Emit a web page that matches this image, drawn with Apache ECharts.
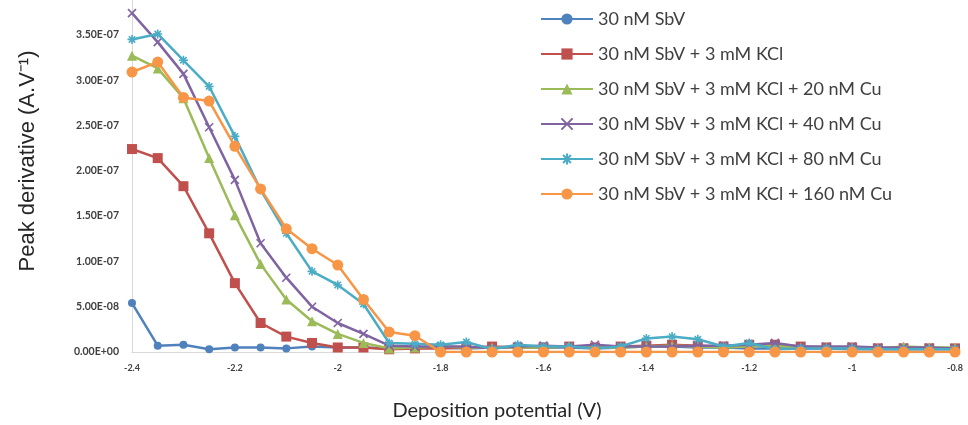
<!DOCTYPE html>
<html><head><meta charset="utf-8">
<script src="https://cdn.jsdelivr.net/npm/echarts@6/dist/echarts.min.js"></script>
<style>html,body{margin:0;padding:0;background:#fff}#c{width:968px;height:425px}</style>
</head><body><div id="c"></div>
<script>
const potentials = [-2.4,-2.35,-2.3,-2.25,-2.2,-2.15,-2.1,-2.05,-2.0,-1.95,-1.9,-1.85,-1.8,-1.75,-1.7,-1.65,-1.6,-1.55,-1.5,-1.45,-1.4,-1.35,-1.3,-1.25,-1.2,-1.15,-1.1,-1.05,-1.0,-0.95,-0.9,-0.85,-0.8];
const seriesNames = ["30 nM SbV","30 nM SbV + 3 mM KCl","30 nM SbV + 3 mM KCl + 20 nM Cu","30 nM SbV + 3 mM KCl + 40 nM Cu","30 nM SbV + 3 mM KCl + 80 nM Cu","30 nM SbV + 3 mM KCl + 160 nM Cu"];
const sbv = [5.4e-8,0.7e-8,0.8e-8,0.3e-8,0.5e-8,0.5e-8,0.4e-8,0.6e-8,0.5e-8,0.5e-8,0.4e-8,0.5e-8,0.5e-8,0.4e-8,0.5e-8,0.6e-8,0.5e-8,0.5e-8,0.4e-8,0.5e-8,0.6e-8,0.6e-8,0.5e-8,0.5e-8,0.4e-8,0.4e-8,0.4e-8,0.4e-8,0.3e-8,0.3e-8,0.3e-8,0.3e-8,0.3e-8];
const sbvKcl = [2.24e-7,2.14e-7,1.83e-7,1.31e-7,7.6e-8,3.2e-8,1.7e-8,1.0e-8,0.5e-8,0.5e-8,0.3e-8,0.4e-8,0.4e-8,0.5e-8,0.6e-8,0.5e-8,0.5e-8,0.6e-8,0.5e-8,0.6e-8,0.7e-8,0.8e-8,0.7e-8,0.6e-8,0.8e-8,0.8e-8,0.6e-8,0.5e-8,0.5e-8,0.4e-8,0.4e-8,0.4e-8,0.4e-8];
const cu20 = [3.27e-7,3.13e-7,2.8e-7,2.14e-7,1.51e-7,9.7e-8,5.8e-8,3.4e-8,2.0e-8,1.0e-8,0.4e-8,0.5e-8,0.6e-8,0.5e-8,0.5e-8,0.5e-8,0.5e-8,0.6e-8,0.5e-8,0.5e-8,0.6e-8,0.7e-8,0.6e-8,0.5e-8,0.6e-8,0.7e-8,0.5e-8,0.5e-8,0.5e-8,0.4e-8,0.6e-8,0.5e-8,0.5e-8];
const cu40 = [3.74e-7,3.42e-7,3.07e-7,2.48e-7,1.9e-7,1.2e-7,8.2e-8,5.0e-8,3.2e-8,2.0e-8,0.7e-8,0.6e-8,0.6e-8,0.6e-8,0.4e-8,0.6e-8,0.7e-8,0.6e-8,0.8e-8,0.6e-8,0.6e-8,0.6e-8,0.7e-8,0.7e-8,0.8e-8,1.0e-8,0.6e-8,0.6e-8,0.6e-8,0.5e-8,0.5e-8,0.5e-8,0.4e-8];
const cu80 = [3.45e-7,3.51e-7,3.22e-7,2.93e-7,2.38e-7,1.79e-7,1.31e-7,8.9e-8,7.4e-8,5.3e-8,1.0e-8,0.9e-8,0.8e-8,1.1e-8,0.3e-8,0.8e-8,0.6e-8,0.6e-8,0.4e-8,0.6e-8,1.5e-8,1.7e-8,1.4e-8,0.6e-8,1.0e-8,0.3e-8,0.4e-8,0.4e-8,0.4e-8,0.3e-8,0.3e-8,0.3e-8,0.3e-8];
const cu160 = [3.09e-7,3.2e-7,2.81e-7,2.77e-7,2.27e-7,1.8e-7,1.36e-7,1.14e-7,9.6e-8,5.8e-8,2.2e-8,1.8e-8,0,0,0,0,0,0,0,0,0,0,0,0,0,0,0,0,0,0,0,0,0];
const xTitle = "Deposition potential (V)";
const yTitle = "Peak derivative (A.V\u207B\u00B9)";

const valuesList = [sbv, sbvKcl, cu20, cu40, cu80, cu160];
const colors = ['#4F81BD','#C0504D','#9BBB59','#8064A2','#4BACC6','#F79646'];
const symbols = ['circle','rect','triangle','path://M0,0L10,10M10,0L0,10','path://M0,5L10,5M5,0L5,10M1.5,1.5L8.5,8.5M8.5,1.5L1.5,8.5','circle'];
const sizes = [8,10,10,8,9,11];
const FONT = 'Lato, "Open Sans", sans-serif';

function fmtSci(v){
  if (v === 0) return '0.00E+00';
  let s = v.toExponential(2).toUpperCase();
  let [m,e] = s.split('E');
  let sign = e[0]; let d = e.slice(1);
  if (d.length < 2) d = '0' + d;
  return m + 'E' + sign + d;
}

const chart = echarts.init(document.getElementById('c'), null, {renderer:'canvas'});
chart.setOption({
  animation:false,
  backgroundColor:'#fff',
  grid:{left:132, right:13, top:0, bottom:73, containLabel:false},
  legend:{
    orient:'vertical', left:535, top:5, itemGap:17, itemWidth:52, itemHeight:14,
    textStyle:{fontFamily:FONT, fontSize:18, color:'#404040', lineHeight:18},
    data: seriesNames
  },
  xAxis:{
    type:'value', min:-2.4, max:-0.8, interval:0.2,
    axisLine:{lineStyle:{color:'#d9d9d9'}},
    axisTick:{show:false}, splitLine:{show:false},
    axisLabel:{fontFamily:FONT, fontSize:9, color:'#404040', fontWeight:'bold', margin:12,
      formatter:v=>String(+v.toFixed(2))}
  },
  yAxis:{
    type:'value', min:0, max:3.885e-7, interval:5e-8,
    axisLine:{show:true, lineStyle:{color:'#d9d9d9'}},
    axisTick:{show:false}, splitLine:{show:false},
    axisLabel:{fontFamily:FONT, fontSize:10.5, color:'#404040', fontWeight:'bold', margin:13, showMaxLabel:false,
      formatter:v=>fmtSci(v)}
  },
  graphic:[
    {type:'text', x:497, y:411, style:{text:xTitle, x:0, y:0, align:'center', verticalAlign:'middle', fontFamily:FONT, fontSize:20, fill:'#262626'}},
    {type:'text', x:28, y:161, rotation:Math.PI/2, style:{text:yTitle, x:0, y:0, align:'center', verticalAlign:'middle', fontFamily:'"Liberation Sans", Arial, sans-serif', fontSize:22, fill:'#262626'}}
  ],
  series: seriesNames.map((n,i)=>({
    name:n, type:'line',
    data: potentials.map((p,j)=>[p, valuesList[i][j]]),
    symbol: symbols[i], symbolSize: sizes[i], showAllSymbol:true,
    lineStyle:{color:colors[i], width:2.5},
    itemStyle: (i===3||i===4) ? {color:colors[i], borderColor:colors[i], borderWidth:1.6} : {color:colors[i]},
    z: 2+i
  }))
});
</script></body></html>
